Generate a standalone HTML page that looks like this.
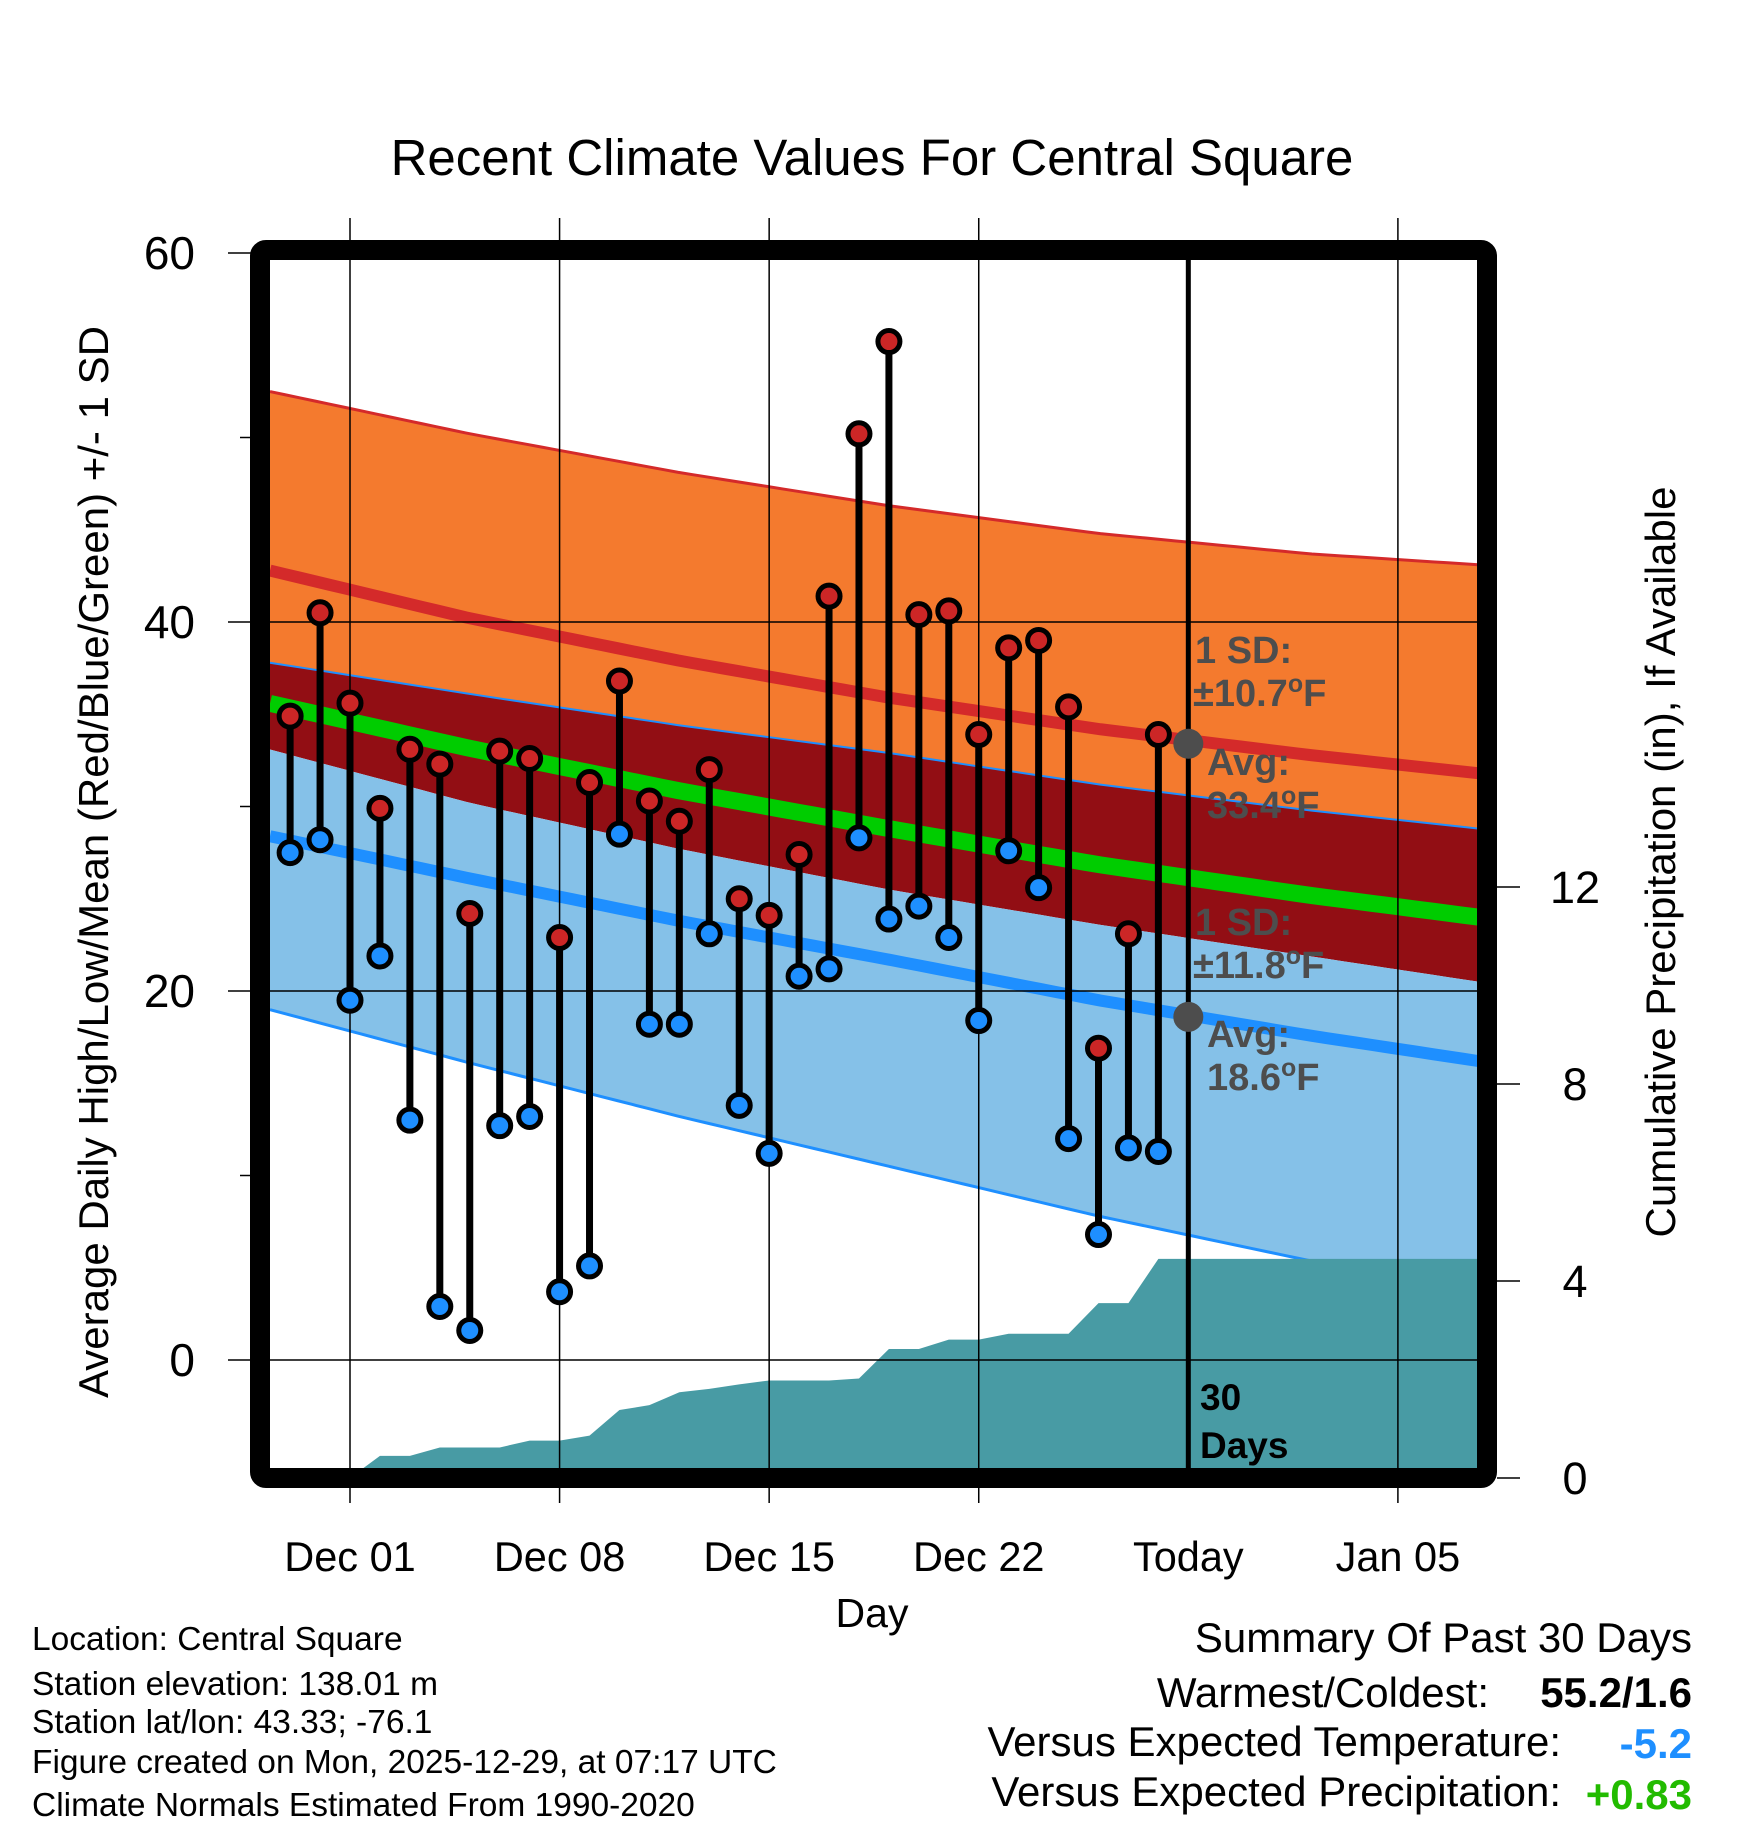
<!DOCTYPE html>
<html><head><meta charset="utf-8">
<style>
html,body{margin:0;padding:0;background:#fff;}
svg{display:block;font-family:"Liberation Sans",sans-serif;}
</style></head>
<body>
<svg id="chart" width="1748" height="1828" viewBox="0 0 1748 1828" xmlns="http://www.w3.org/2000/svg">
<g id="under"></g>
</svg>
<script>
// ---- data ----
const days = ["Nov 29","Nov 30","Dec 01","Dec 02","Dec 03","Dec 04","Dec 05","Dec 06","Dec 07","Dec 08","Dec 09","Dec 10","Dec 11","Dec 12","Dec 13","Dec 14","Dec 15","Dec 16","Dec 17","Dec 18","Dec 19","Dec 20","Dec 21","Dec 22","Dec 23","Dec 24","Dec 25","Dec 26","Dec 27","Dec 28"];
const highs = [34.9,40.5,35.6,29.9,33.1,32.3,24.2,33.0,32.6,22.9,31.3,36.8,30.3,29.2,32.0,25.0,24.1,27.4,41.4,50.2,55.2,40.4,40.6,33.9,38.6,39.0,35.4,16.9,23.1,33.9];
const lows  = [27.5,28.2,19.5,21.9,13.0,2.9,1.6,12.7,13.2,3.7,5.1,28.5,18.2,18.2,23.1,13.8,11.2,20.8,21.2,28.3,23.9,24.6,22.9,18.4,27.6,25.6,12.0,6.8,11.5,11.3];
const precip = [0,0.45,0.45,0.62,0.62,0.62,0.76,0.76,0.86,1.38,1.48,1.74,1.81,1.90,1.98,1.98,1.98,2.02,2.62,2.62,2.81,2.81,2.93,2.93,2.93,3.55,3.55,4.45];
// climatology samples (day offset from Dec 01)
const normDays = [-2.7,4,11,18,25,32,37.7];
const normHigh = [42.8,40.2,37.9,35.9,34.2,32.8,31.8];
const sdHigh   = [9.7,10.0,10.2,10.4,10.6,10.9,11.3];
const normLow  = [28.4,26.1,23.8,21.7,19.5,17.6,16.2];
const sdLow    = [9.4,10.0,10.6,11.2,11.7,12.2,12.6];
const xTickLabels = ["Dec 01","Dec 08","Dec 15","Dec 22","Today","Jan 05"];
const xTickDays = [0,7,14,21,28,35];
const yTicks = [0,20,40,60];
const yMinor = [10,30,50];
const pTicks = [0,4,8,12];

// ---- axes ----
const X0=350, PXD=29.94;
const x = d => X0 + d*PXD;
const y = v => 1360 - v*18.45;
const yp = p => 1478 - p*49.25;
const L=270,R=1478,T=260,B=1468;
const NS="http://www.w3.org/2000/svg";
const svg=document.getElementById('chart');
function el(tag,attrs,parent){const e=document.createElementNS(NS,tag);for(const k in attrs)e.setAttribute(k,attrs[k]);(parent||svg).appendChild(e);return e;}
function interp(arr,d){for(let i=0;i<normDays.length-1;i++){if(d<=normDays[i+1]||i==normDays.length-2){const t=(d-normDays[i])/(normDays[i+1]-normDays[i]);return arr[i]+t*(arr[i+1]-arr[i]);}}}
const dStart=(L-X0)/PXD, dEnd=(R-X0)/PXD;
const samples=[];for(let i=0;i<=80;i++)samples.push(dStart+(dEnd-dStart)*i/80);
const f=(fn)=>samples.map(d=>[x(d),y(fn(d))]);
const hm=d=>interp(normHigh,d), hs=d=>interp(sdHigh,d), lm=d=>interp(normLow,d), ls=d=>interp(sdLow,d);
function band(top,bot,fill,name){const pts=top.concat(bot.slice().reverse()).map(p=>p.join(',')).join(' ');const e=el('polygon',{points:pts,fill:fill});

}
function line(pts,stroke,w,name){const e=el('polyline',{points:pts.map(p=>p.join(',')).join(' '),fill:'none',stroke:stroke,'stroke-width':w});

}

const clip=el('clipPath',{id:'pc'});el('rect',{x:L,y:T,width:R-L,height:B-T},clip);
// bands
band(f(d=>hm(d)+hs(d)),f(d=>lm(d)+ls(d)),'#f47a2e','high-sd-band');
band(f(d=>lm(d)+ls(d)),f(d=>hm(d)-hs(d)),'#920e14','overlap-band');
band(f(d=>hm(d)-hs(d)),f(d=>lm(d)-ls(d)),'#85c1e8','low-sd-band');
line(f(d=>hm(d)+hs(d)),'#d42a2a',3,'high-upper-sd-line');
line(f(d=>lm(d)+ls(d)),'#1e8fff',2,'low-upper-sd-line');
line(f(d=>lm(d)-ls(d)),'#1e8fff',3,'low-lower-sd-line');
line(f(hm),'#d42a2a',12,'mean-high-line');
line(f(d=>(hm(d)+lm(d))/2),'#00cc00',17,'mean-line');
line(f(lm),'#1e8fff',12,'mean-low-line');
// precip area
let pp=[[x(0),yp(0)]];precip.forEach((p,i)=>pp.push([x(i),yp(p)]));pp.push([R,yp(precip[precip.length-1])]);pp.push([R,yp(0)]);
const pa=el('polygon',{points:pp.map(p=>p.join(',')).join(' '),fill:'#489ba4','clip-path':'url(#pc)'});


// gridlines
xTickDays.forEach((d,i)=>{if(i==4)return;const g=el('line',{x1:x(d),x2:x(d),y1:218,y2:1503,stroke:'#000','stroke-width':1.5});

});
yTicks.forEach(v=>{const g=el('line',{x1:228,x2:R,y1:y(v),y2:y(v),stroke:'#000','stroke-width':1.5});


const t=el('text',{x:195,y:y(v)+16,'font-size':46,'text-anchor':'end'});t.textContent=v;

});
yMinor.forEach(v=>{const g=el('line',{x1:240,x2:252,y1:y(v),y2:y(v),stroke:'#000','stroke-width':1.5});

});
pTicks.forEach(p=>{const g=el('line',{x1:1497,x2:1520,y1:yp(p),y2:yp(p),stroke:'#000','stroke-width':1.5});


const t=el('text',{x:1575,y:yp(p)+16,'font-size':45,'text-anchor':'middle'});t.textContent=p;

});
xTickLabels.forEach((s,i)=>{const t=el('text',{x:x(xTickDays[i]),y:1571,'font-size':41.5,'text-anchor':'middle'});t.textContent=s;

});
// today line
const tl=el('line',{x1:x(28),x2:x(28),y1:T,y2:B,stroke:'#000','stroke-width':5});


// annotations
function txt(s,xx,yy,size,fill,weight,anchor,name){const t=el('text',{x:xx,y:yy,'font-size':size,fill:fill,'font-weight':weight||'normal','text-anchor':anchor||'start'});t.innerHTML=s;

return t;}
const dot1=el('circle',{cx:x(28),cy:y(33.4),r:15,fill:'#4d4d4d'});


const dot2=el('circle',{cx:x(28),cy:y(18.6),r:15,fill:'#4d4d4d'});


const G='#4d4d4d';
txt('1 SD:',1195,663,38,G,'bold','start','high-sd-label');
txt('±10.7<tspan font-size="25" dy="-14">o</tspan><tspan dy="14">F</tspan>',1193,706,38,G,'bold','start','high-sd-value');
txt('Avg:',1207,775,38,G,'bold','start','high-avg-label');
txt('33.4<tspan font-size="25" dy="-14">o</tspan><tspan dy="14">F</tspan>',1207,818,38,G,'bold','start','high-avg-value');
txt('1 SD:',1195,935,38,G,'bold','start','low-sd-label');
txt('±11.8<tspan font-size="25" dy="-14">o</tspan><tspan dy="14">F</tspan>',1193,978,38,G,'bold','start','low-sd-value');
txt('Avg:',1207,1047,38,G,'bold','start','low-avg-label');
txt('18.6<tspan font-size="25" dy="-14">o</tspan><tspan dy="14">F</tspan>',1207,1090,38,G,'bold','start','low-avg-value');
txt('30',1200,1410,37,'#000','bold','start','days-count-label');
txt('Days',1200,1458,37,'#000','bold','start','days-label');
// stems & points
days.forEach((d,i)=>{const dx=x(i-2);
const s=el('line',{x1:dx,x2:dx,y1:y(highs[i]),y2:y(lows[i]),stroke:'#000','stroke-width':7});


const h=el('circle',{cx:dx,cy:y(highs[i]),r:11,fill:'#cc2626',stroke:'#000','stroke-width':5});


const l=el('circle',{cx:dx,cy:y(lows[i]),r:11,fill:'#1e8fff',stroke:'#000','stroke-width':5});

});
// frame
const fr=el('rect',{x:260,y:250,width:1227,height:1228,fill:'none',stroke:'#000','stroke-width':20,rx:6});


// titles
txt('Recent Climate Values For Central Square',872,175,51,'#000','normal','middle','chart-title');
const yt=txt('Average Daily High/Low/Mean (Red/Blue/Green) +/- 1 SD',0,0,42,'#000','normal','middle','y-axis-title');
yt.setAttribute('transform','translate(108,862) rotate(-90)');
const yt2=txt('Cumulative Precipitation (in), If Available',0,0,42,'#000','normal','middle','precip-axis-title');
yt2.setAttribute('transform','translate(1675,862) rotate(-90)');
txt('Day',872,1627,41,'#000','normal','middle','x-axis-title');
// footer
const info=['Location: Central Square','Station elevation: 138.01 m','Station lat/lon: 43.33; -76.1','Figure created on Mon, 2025-12-29, at 07:17 UTC','Climate Normals Estimated From 1990-2020'];
const iy=[1650,1695,1733,1773,1816];
info.forEach((s,i)=>txt(s,32,iy[i],33.5,'#000','normal','start','station-info-line'));
txt('Summary Of Past 30 Days',1692,1652,42,'#000','normal','end','summary-title');
txt('Warmest/Coldest:',1489,1707,42,'#000','normal','end','warmest-coldest-label');
txt('55.2/1.6',1692,1707,42,'#000','bold','end','warmest-coldest-value');
txt('Versus Expected Temperature:',1561,1756,42,'#000','normal','end','temp-anomaly-label');
txt('-5.2',1692,1758,42,'#1e8fff','bold','end','temp-anomaly-value');
txt('Versus Expected Precipitation:',1561,1806,42,'#000','normal','end','precip-anomaly-label');
txt('+0.83',1692,1809,42,'#22bb00','bold','end','precip-anomaly-value');
</script>
</body></html>
